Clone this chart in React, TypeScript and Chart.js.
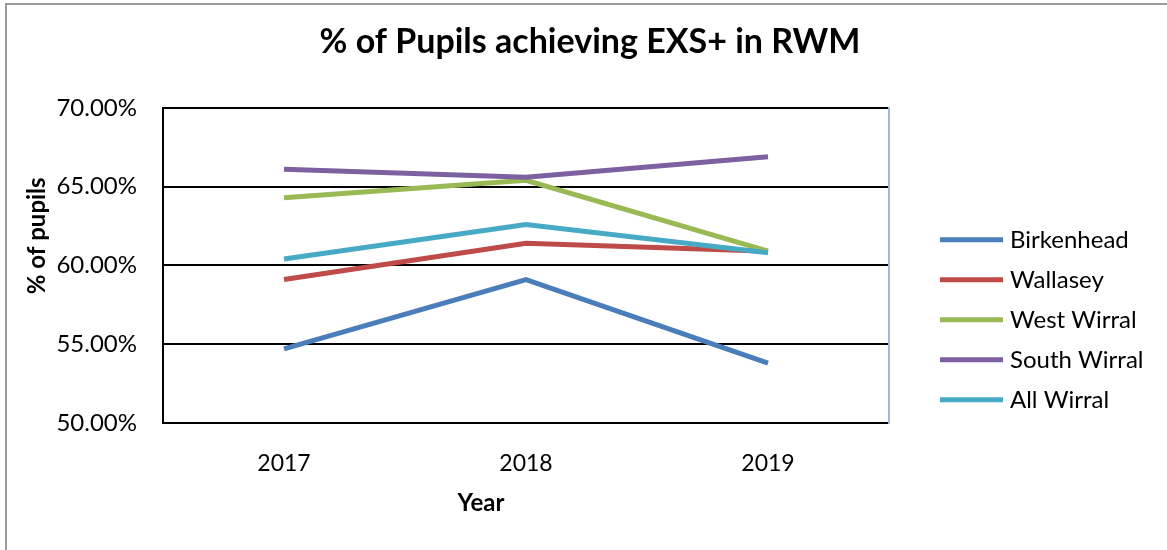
import React, { useEffect, useRef } from "react";
import { Chart, registerables } from "chart.js";

Chart.register(...registerables);

const years = ["2017", "2018", "2019"];
const seriesNames = ["Birkenhead", "Wallasey", "West Wirral", "South Wirral", "All Wirral"];
const birkenhead = [54.7, 59.1, 53.8];
const wallasey = [59.1, 61.4, 60.9];
const westWirral = [64.3, 65.4, 60.9];
const southWirral = [66.1, 65.6, 66.9];
const allWirral = [60.4, 62.6, 60.8];
const seriesColors = ["#4A7EBB", "#BE4B48", "#98B954", "#7D60A0", "#46AAC5"];
const yTicks = [50, 55, 60, 65, 70];

const titleText = "% of Pupils achieving EXS+ in RWM";
const xTitle = "Year";
const yTitle = "% of pupils";
const FONT = "Lato, 'Open Sans', sans-serif";

export default function App() {
  const ref = useRef<HTMLCanvasElement | null>(null);

  useEffect(() => {
    document.body.style.margin = "0";
    const canvas = ref.current;
    if (!canvas) return;
    const seriesData = [birkenhead, wallasey, westWirral, southWirral, allWirral];

    const extras = {
      id: "extras",
      afterDraw(chart: any) {
        const { ctx, chartArea } = chart;
        ctx.save();
        // legend
        ctx.font = `24px ${FONT}`;
        ctx.textBaseline = "middle";
        ctx.textAlign = "left";
        chart.data.datasets.forEach((ds: any, i: number) => {
          const y = chartArea.top + 132 + i * 40;
          const x0 = chartArea.right + 51;
          ctx.strokeStyle = ds.borderColor;
          ctx.lineWidth = 5;
          ctx.lineCap = "butt";
          ctx.beginPath();
          ctx.moveTo(x0, y);
          ctx.lineTo(x0 + 63, y);
          ctx.stroke();
          ctx.fillStyle = "#000";
          ctx.fillText(ds.label, x0 + 70, y);
        });
        // axis titles
        ctx.font = `bold 24px ${FONT}`;
        ctx.textAlign = "center";
        ctx.fillStyle = "#000";
        ctx.fillText(xTitle, chartArea.left + 318, chartArea.bottom + 80);
        ctx.translate(37, chartArea.top + 128);
        ctx.rotate(-Math.PI / 2);
        ctx.fillText(yTitle, 0, 0);
        ctx.restore();
      },
    };

    const chart = new Chart(canvas, {
      type: "line",
      data: {
        labels: years,
        datasets: seriesNames.map((name, i) => ({
          label: name,
          data: seriesData[i],
          borderColor: seriesColors[i],
          backgroundColor: seriesColors[i],
          borderWidth: 5,
          borderCapStyle: "butt",
          borderJoinStyle: "miter",
          pointRadius: 0,
          pointHoverRadius: 0,
          fill: false,
          tension: 0,
          order: seriesNames.length - 1 - i,
        })),
      },
      options: {
        responsive: false,
        animation: false,
        layout: { padding: { left: 21, right: 8, top: 6, bottom: 0 } },
        plugins: {
          legend: { display: false },
          tooltip: { enabled: false },
          title: {
            display: true,
            text: titleText,
            color: "#000",
            font: { family: FONT, size: 34, weight: "bold" },
            padding: { top: 16, bottom: 45 },
          },
        },
        scales: {
          x: {
            type: "category",
            offset: true,
            grid: { display: false, drawTicks: false },
            border: { display: true, color: "#000", width: 2 },
            ticks: { color: "#000", font: { family: FONT, size: 23 }, padding: 27 },
            afterFit(scale: any) {
              scale.height = 127;
            },
          },
          y: {
            type: "linear",
            min: 50,
            max: 70,
            afterBuildTicks(scale: any) {
              scale.ticks = yTicks.map((v) => ({ value: v }));
            },
            grid: { color: "#000", lineWidth: 2, drawTicks: false },
            border: { display: true, color: "#000", width: 2 },
            ticks: {
              color: "#000",
              font: { family: FONT, size: 24 },
              padding: 26,
              callback: (v: any) => Number(v).toFixed(2) + "%",
            },
            afterFit(scale: any) {
              scale.width = 142;
            },
          },
          y2: {
            type: "linear",
            position: "right",
            grid: { display: false, drawTicks: false },
            border: { display: true, color: "#9DB9DC", width: 2 },
            ticks: { display: false },
            afterFit(scale: any) {
              scale.width = 270;
            },
          },
        },
      },
      plugins: [extras],
    });
    return () => chart.destroy();
  }, []);

  return (
    <div style={{ position: "fixed", left: 0, top: 0, width: 1167, height: 550, overflow: "hidden", background: "#fff" }}>
      <canvas ref={ref} width={1167} height={550} style={{ position: "absolute", left: 0, top: 0, width: 1167, height: 550 }} />
      <div
        style={{
          position: "absolute",
          left: 5,
          top: 3,
          width: 1200,
          height: 600,
          border: "2px solid #9a9a9a",
          pointerEvents: "none",
        }}
      />
    </div>
  );
}
